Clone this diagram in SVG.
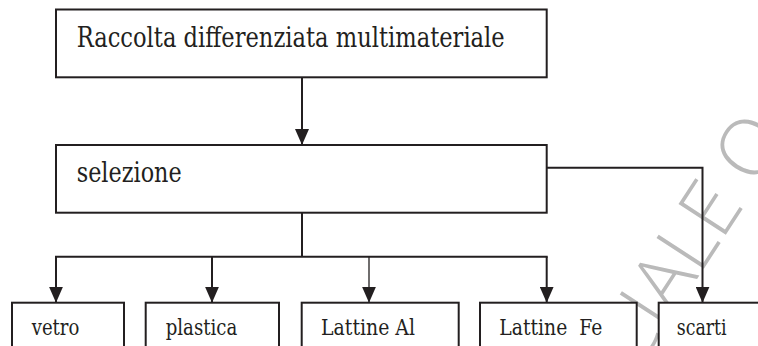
<svg xmlns="http://www.w3.org/2000/svg" width="758" height="346" viewBox="0 0 758 346">
  <style>
    .box { fill: #ffffff; stroke: #231f20; stroke-width: 2; }
    .wire { fill: none; stroke: #231f20; stroke-width: 2; }
    .lbl { fill: #231f20; font-family: "DejaVu Serif", "Liberation Serif", serif; }
    .big { font-size: 27px; }
    .small { font-size: 21.5px; }
    .mark { font-family: "Open Sans", "Liberation Sans", sans-serif; font-size: 79px; font-weight: 300; fill: #bababa; }
  </style>
  <defs>
    <!-- solid triangular head, drawn pointing along +x so orient="auto" turns it with the line -->
    <marker id="arrow" viewBox="0 0 16 14" refX="16" refY="7" markerWidth="16" markerHeight="14" markerUnits="userSpaceOnUse" orient="auto">
      <path d="M0,0 L16,7 L0,14 Z" fill="#231f20"/>
    </marker>
  </defs>

  <rect width="758" height="346" fill="#ffffff"/>

  <!-- faint diagonal watermark -->
  <text class="mark" x="0" y="0" transform="translate(636,373) rotate(-57)">CIALE O</text>

  <!-- connectors -->
  <g id="connectors">
    <line class="wire" x1="302" y1="77" x2="302" y2="145" marker-end="url(#arrow)"/>
    <polyline class="wire" points="547,167.7 702.5,167.7 702.5,302.7" marker-end="url(#arrow)"/>
    <line class="wire" x1="302" y1="212.7" x2="302" y2="256.7"/>
    <line class="wire" x1="55" y1="256.7" x2="547.7" y2="256.7"/>
    <line class="wire" x1="56" y1="256.7" x2="56" y2="302.7" marker-end="url(#arrow)"/>
    <line class="wire" x1="212" y1="256.7" x2="212" y2="302.7" marker-end="url(#arrow)"/>
    <line class="wire" x1="369" y1="256.7" x2="369" y2="302.7" marker-end="url(#arrow)" style="stroke-width:1.3"/>
    <line class="wire" x1="546.7" y1="256.7" x2="546.7" y2="302.7" marker-end="url(#arrow)"/>
  </g>

  <g id="raccolta">
    <rect class="box" x="56" y="9.5" width="490.7" height="67.8"/>
    <text class="lbl big" x="76.7" y="46.7" textLength="428" lengthAdjust="spacingAndGlyphs">Raccolta differenziata multimateriale</text>
  </g>

  <g id="selezione">
    <rect class="box" x="56" y="145" width="490.7" height="67.7"/>
    <text class="lbl big" x="76.7" y="181.7" textLength="105" lengthAdjust="spacingAndGlyphs">selezione</text>
  </g>

  <g id="vetro">
    <rect class="box" x="12" y="302.7" width="112" height="60"/>
    <text class="lbl small" x="31.7" y="335" textLength="47.7" lengthAdjust="spacingAndGlyphs">vetro</text>
  </g>

  <g id="plastica">
    <rect class="box" x="145.7" y="302.7" width="133.3" height="60"/>
    <text class="lbl small" x="165.7" y="335" textLength="71.6" lengthAdjust="spacingAndGlyphs">plastica</text>
  </g>

  <g id="lattine-al">
    <rect class="box" x="301.7" y="302.7" width="157" height="60"/>
    <text class="lbl small" x="321" y="335" textLength="94" lengthAdjust="spacingAndGlyphs">Lattine Al</text>
  </g>

  <g id="lattine-fe">
    <rect class="box" x="480" y="302.7" width="156.7" height="60"/>
    <text class="lbl small" x="499.3" y="335" textLength="103" lengthAdjust="spacingAndGlyphs" xml:space="preserve" style="white-space:pre">Lattine  Fe</text>
  </g>

  <g id="scarti">
    <rect class="box" x="658.7" y="302.7" width="120" height="60"/>
    <text class="lbl small" x="676.7" y="335" textLength="50" lengthAdjust="spacingAndGlyphs">scarti</text>
  </g>
</svg>
